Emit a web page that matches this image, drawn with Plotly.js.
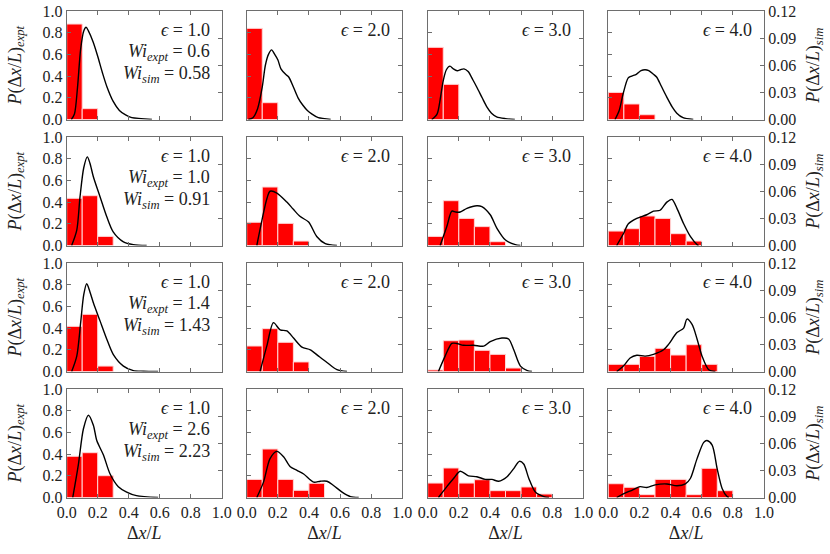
<!DOCTYPE html>
<html>
<head>
<meta charset="utf-8">
<script src="https://cdn.plot.ly/plotly-3.0.1.min.js"></script>
<style>
body { margin: 0; background: #fff; }
#plotdiv { width: 830px; height: 554px; }
</style>
</head>
<body>
<div id="plotdiv"></div>
<script>
// histogram bin centres (bin width 0.1)
var binCenters = [0.05, 0.15, 0.25, 0.35, 0.45, 0.55, 0.65, 0.75, 0.85, 0.95];

var epsilons = ['1.0', '2.0', '3.0', '4.0'];
var wiExpt = ['0.6', '1.0', '1.4', '2.6'];
var wiSim = ['0.58', '0.91', '1.43', '2.23'];

// experiment histograms, P(dx/L)_expt  (row = Wi, column = epsilon)
var expt11 = [0.88, 0.10];
var expt12 = [0.84, 0.155];
var expt13 = [0.665, 0.324];
var expt14 = [0.25, 0.143, 0.044];

var expt21 = [0.435, 0.459, 0.084];
var expt22 = [0.214, 0.539, 0.204, 0.041];
var expt23 = [0.084, 0.413, 0.25, 0.174, 0.035];
var expt24 = [0.133, 0.155, 0.272, 0.25, 0.109, 0.041];

var expt31 = [0.416, 0.527, 0.05];
var expt32 = [0.235, 0.395, 0.269, 0.088];
var expt33 = [0.014, 0.284, 0.29, 0.195, 0.158, 0.032];
var expt34 = [0.066, 0.066, 0.14, 0.214, 0.152, 0.247, 0.066];

var expt41 = [0.38, 0.413, 0.201];
var expt42 = [0.167, 0.447, 0.167, 0.066, 0.131];
var expt43 = [0.133, 0.272, 0.133, 0.164, 0.063, 0.063, 0.097, 0.032];
var expt44 = [0.127, 0.094, 0.026, 0.167, 0.167, 0.026, 0.269, 0.063];

// simulation distributions, P(dx/L)_sim
var simX11 = [0.03, 0.05, 0.07, 0.09, 0.11, 0.125, 0.14, 0.17, 0.2, 0.23, 0.26, 0.3, 0.34, 0.38, 0.42, 0.48, 0.55];
var simY11 = [0, 0.006, 0.036, 0.078, 0.098, 0.102, 0.098, 0.086, 0.070, 0.052, 0.036, 0.020, 0.010, 0.005, 0.002, 0.001, 0];
var simX12 = [0.01, 0.04, 0.07, 0.1, 0.12, 0.14, 0.16, 0.18, 0.2, 0.22, 0.25, 0.27, 0.3, 0.33, 0.36, 0.39, 0.42, 0.46, 0.5, 0.54];
var simY12 = [0, 0.002, 0.012, 0.036, 0.060, 0.072, 0.077, 0.072, 0.066, 0.056, 0.050, 0.047, 0.036, 0.024, 0.016, 0.010, 0.006, 0.002, 0.001, 0];
var simX13 = [0.026, 0.06, 0.08, 0.1, 0.12, 0.143, 0.165, 0.19, 0.21, 0.233, 0.26, 0.29, 0.315, 0.35, 0.38, 0.41, 0.443, 0.5, 0.56];
var simY13 = [0, 0.006, 0.022, 0.043, 0.055, 0.059, 0.056, 0.054, 0.055, 0.056, 0.053, 0.044, 0.036, 0.024, 0.014, 0.007, 0.003, 0.001, 0];
var simX14 = [0.043, 0.07, 0.096, 0.128, 0.15, 0.18, 0.21, 0.236, 0.26, 0.29, 0.31, 0.34, 0.375, 0.41, 0.44, 0.48, 0.546];
var simY14 = [0, 0.010, 0.029, 0.046, 0.048, 0.050, 0.054, 0.055, 0.054, 0.050, 0.047, 0.037, 0.025, 0.014, 0.007, 0.002, 0];

var simX21 = [0.032, 0.065, 0.086, 0.11, 0.133, 0.15, 0.172, 0.215, 0.258, 0.3, 0.366, 0.43, 0.516];
var simY21 = [0, 0.017, 0.054, 0.086, 0.098, 0.091, 0.076, 0.054, 0.032, 0.015, 0.004, 0.001, 0];
var simX22 = [0.065, 0.108, 0.13, 0.15, 0.194, 0.258, 0.3, 0.344, 0.398, 0.45, 0.505, 0.58];
var simY22 = [0, 0.036, 0.052, 0.060, 0.058, 0.048, 0.040, 0.032, 0.026, 0.010, 0.002, 0];
var simX23 = [0.08, 0.123, 0.155, 0.18, 0.209, 0.252, 0.316, 0.348, 0.402, 0.445, 0.5, 0.563, 0.596];
var simY23 = [0, 0.021, 0.038, 0.037, 0.037, 0.041, 0.044, 0.043, 0.034, 0.019, 0.006, 0.001, 0];
var simX24 = [0.054, 0.097, 0.129, 0.183, 0.247, 0.29, 0.333, 0.376, 0.409, 0.441, 0.484, 0.527, 0.57, 0.58];
var simY24 = [0, 0.013, 0.024, 0.030, 0.034, 0.038, 0.039, 0.048, 0.051, 0.041, 0.024, 0.010, 0.001, 0];

var simX31 = [0.032, 0.065, 0.09, 0.11, 0.129, 0.15, 0.172, 0.215, 0.258, 0.3, 0.366, 0.43, 0.495, 0.59];
var simY31 = [0, 0.017, 0.054, 0.085, 0.097, 0.088, 0.076, 0.056, 0.036, 0.019, 0.006, 0.001, 0.0003, 0];
var simX32 = [0.086, 0.129, 0.172, 0.215, 0.258, 0.301, 0.355, 0.409, 0.462, 0.516, 0.58, 0.645];
var simY32 = [0, 0.028, 0.054, 0.046, 0.045, 0.037, 0.027, 0.024, 0.017, 0.010, 0.002, 0];
var simX33 = [0.069, 0.112, 0.155, 0.187, 0.23, 0.295, 0.36, 0.402, 0.477, 0.52, 0.553, 0.596, 0.64, 0.67];
var simY33 = [0, 0.017, 0.031, 0.031, 0.029, 0.029, 0.028, 0.033, 0.037, 0.036, 0.024, 0.006, 0.001, 0];
var simX34 = [0.054, 0.097, 0.14, 0.183, 0.237, 0.29, 0.355, 0.387, 0.441, 0.484, 0.505, 0.538, 0.57, 0.602, 0.645, 0.688];
var simY34 = [0, 0.006, 0.015, 0.018, 0.017, 0.019, 0.024, 0.030, 0.043, 0.048, 0.058, 0.052, 0.036, 0.017, 0.002, 0];

var simX41 = [0.039, 0.075, 0.108, 0.14, 0.172, 0.194, 0.237, 0.28, 0.333, 0.387, 0.45, 0.59];
var simY41 = [0, 0.036, 0.076, 0.091, 0.080, 0.063, 0.047, 0.026, 0.012, 0.006, 0.002, 0];
var simX42 = [0.065, 0.108, 0.15, 0.194, 0.237, 0.28, 0.323, 0.366, 0.43, 0.473, 0.516, 0.56, 0.613, 0.667, 0.72];
var simY42 = [0, 0.017, 0.043, 0.051, 0.045, 0.034, 0.030, 0.026, 0.017, 0.018, 0.018, 0.013, 0.006, 0.001, 0];
var simX43 = [0.069, 0.123, 0.166, 0.209, 0.262, 0.316, 0.37, 0.413, 0.456, 0.51, 0.553, 0.589, 0.617, 0.65, 0.692, 0.746, 0.78];
var simY43 = [0, 0.012, 0.021, 0.029, 0.024, 0.023, 0.020, 0.020, 0.018, 0.023, 0.032, 0.040, 0.037, 0.021, 0.006, 0.001, 0];
var simX44 = [0.054, 0.097, 0.151, 0.204, 0.247, 0.301, 0.376, 0.441, 0.495, 0.527, 0.57, 0.613, 0.634, 0.667, 0.699, 0.731, 0.763, 0.774];
var simY44 = [0, 0.004, 0.008, 0.012, 0.011, 0.014, 0.015, 0.013, 0.015, 0.021, 0.043, 0.061, 0.063, 0.058, 0.032, 0.010, 0.001, 0];

var expt = [[expt11, expt12, expt13, expt14], [expt21, expt22, expt23, expt24],
            [expt31, expt32, expt33, expt34], [expt41, expt42, expt43, expt44]];
var simX = [[simX11, simX12, simX13, simX14], [simX21, simX22, simX23, simX24],
            [simX31, simX32, simX33, simX34], [simX41, simX42, simX43, simX44]];
var simY = [[simY11, simY12, simY13, simY14], [simY21, simY22, simY23, simY24],
            [simY31, simY32, simY33, simY34], [simY41, simY42, simY43, simY44]];

// pixel geometry of the panels
var W = 830, H = 554;
var colPx = [[66.7, 221.7], [246.7, 402.3], [427.7, 583.3], [608.3, 764]];
var rowPx = [[11, 119.5], [137, 245.5], [263, 371.5], [389, 497.5]];

var FONT = 'Liberation Serif';
var frameColor = '#6e6e6e';
var textColor = '#222';

function tf(size) {
  return {family: FONT, size: size, color: textColor};
}

var data = [];
var layout = {
  width: W, height: H,
  margin: {l: 0, r: 0, t: 0, b: 0},
  showlegend: false,
  paper_bgcolor: '#fff',
  plot_bgcolor: 'rgba(0,0,0,0)',
  font: tf(16),
  bargap: 0,
  annotations: []
};

for (var r = 0; r < 4; r++) {
  for (var c = 0; c < 4; c++) {
    var n = r * 4 + c + 1;
    var xa = 'x' + n;
    var yl = 'y' + (2 * n - 1);
    var yr = 'y' + (2 * n);

    data.push({
      type: 'bar',
      x: binCenters.slice(0, expt[r][c].length),
      y: expt[r][c],
      width: 0.1,
      xaxis: xa, yaxis: yl,
      marker: {color: '#ff0000', line: {color: '#ffd6d6', width: 1}},
      hoverinfo: 'skip'
    });
    data.push({
      type: 'scatter', mode: 'lines',
      x: simX[r][c], y: simY[r][c],
      xaxis: xa, yaxis: yr,
      line: {color: '#000', width: 1.4, shape: 'spline', smoothing: 0.8},
      hoverinfo: 'skip'
    });

    var xd = [colPx[c][0] / W, colPx[c][1] / W];
    var yd = [1 - rowPx[r][1] / H, 1 - rowPx[r][0] / H];

    var xaxis = {
      domain: xd, anchor: yl, range: [0, 1],
      tickvals: [0, 0.2, 0.4, 0.6, 0.8, 1.0],
      tickformat: '.1f',
      showticklabels: r === 3,
      ticks: 'inside', ticklen: 4, tickcolor: frameColor, tickwidth: 1,
      showline: true, linecolor: frameColor, linewidth: 1, mirror: 'ticks',
      showgrid: false, zeroline: false, automargin: false,
      tickfont: tf(16)
    };
    if (r === 3) {
      xaxis.title = {text: 'Δ<i>x</i>/<i>L</i>', font: tf(18), standoff: 6};
    }
    var yleft = {
      domain: yd, anchor: xa, range: [0, 1],
      tickvals: [0, 0.2, 0.4, 0.6, 0.8, 1.0],
      tickformat: '.1f',
      showticklabels: c === 0,
      ticks: 'inside', ticklen: 4, tickcolor: frameColor, tickwidth: 1,
      showline: true, linecolor: frameColor, linewidth: 1,
      showgrid: false, zeroline: false, automargin: false,
      tickfont: tf(16)
    };
    if (c === 0) {
      yleft.title = {text: '<i>P</i>(Δ<i>x</i>/<i>L</i>)<sub><i>expt</i></sub>', font: tf(18)};
    }
    var yright = {
      domain: yd, anchor: xa, overlaying: yl, side: 'right', range: [0, 0.12],
      tickvals: [0, 0.03, 0.06, 0.09, 0.12],
      tickformat: '.2f',
      showticklabels: c === 3,
      ticks: 'inside', ticklen: 4, tickcolor: frameColor, tickwidth: 1,
      showline: true, linecolor: frameColor, linewidth: 1,
      showgrid: false, zeroline: false, automargin: false,
      tickfont: tf(16)
    };
    if (c === 3) {
      yright.title = {text: '<i>P</i>(Δ<i>x</i>/<i>L</i>)<sub><i>sim</i></sub>', font: tf(18)};
    }
    layout['xaxis' + n] = xaxis;
    layout['yaxis' + (2 * n - 1)] = yleft;
    layout['yaxis' + (2 * n)] = yright;

    // panel labels
    var labels = ['<i>ϵ</i> = ' + epsilons[c]];
    if (c === 0) {
      labels.push('<i>Wi</i><sub><i>expt</i></sub> = ' + wiExpt[r]);
      labels.push('<i>Wi</i><sub><i>sim</i></sub> = ' + wiSim[r]);
    }
    for (var k = 0; k < labels.length; k++) {
      layout.annotations.push({
        xref: 'paper', yref: 'paper',
        x: (colPx[c][1] - 10) / W,
        y: 1 - (rowPx[r][0] + 19 + k * 22) / H,
        xanchor: 'right', yanchor: 'middle',
        showarrow: false,
        text: labels[k],
        font: tf(18)
      });
    }
  }
}

Plotly.newPlot('plotdiv', data, layout, {staticPlot: true, displayModeBar: false});
</script>
</body>
</html>
